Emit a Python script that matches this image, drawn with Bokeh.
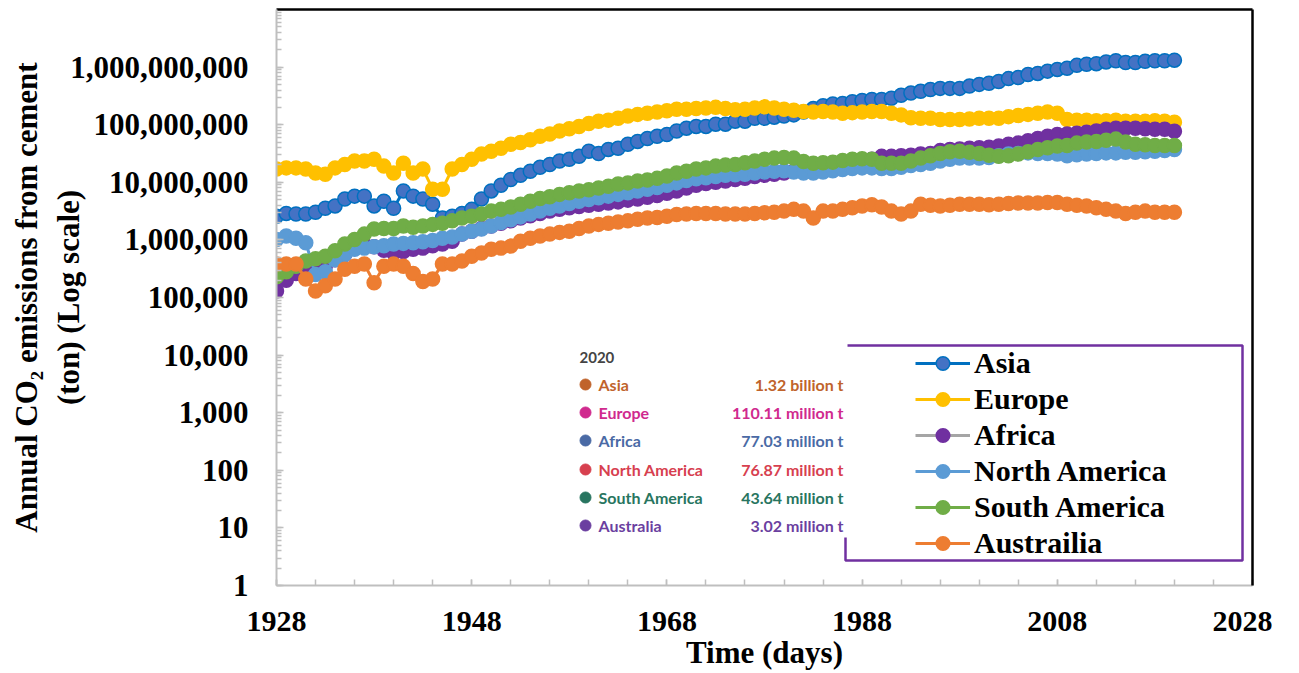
from bokeh.plotting import figure
from bokeh.models import (Range1d, FixedTicker, NumeralTickFormatter, LinearAxis, LogAxis,
                          Legend, LegendItem, BoxAnnotation, Label)
from bokeh.embed import file_html
from bokeh.resources import INLINE

# ---------------- data (million tonnes) ----------------
years = list(range(1928, 2021))

asia_mt = [2.57, 2.88, 2.82, 2.82, 3.02, 3.55, 3.89, 5.13, 5.75, 5.75,
           3.89, 4.68, 3.55, 7.08, 5.75, 5.13, 4.17, 2.40, 2.57, 2.88,
           3.39, 5.13, 7.08, 8.9, 11.2, 13.2, 15.5, 18.2, 20.4, 23.4,
           25.1, 28.2, 34.7, 31.6, 37.2, 38.9, 45.7, 51.3, 57.5, 63.1,
           67.6, 77.6, 87.1, 93.3, 93.3, 102, 102, 115, 115, 129,
           129, 135, 141, 148, 166, 191, 214, 229, 234, 251,
           263, 275, 275, 288, 324, 355, 380, 407, 427, 427,
           427, 468, 501, 525, 562, 631, 661, 741, 776, 851,
           912, 955, 1072, 1122, 1148, 1230, 1288, 1202, 1202, 1259,
           1288, 1288, 1320]

europe_mt = [17.0, 17.8, 17.8, 17.0, 14.5, 13.8, 17.8, 20.4, 23.4, 23.4,
             25.1, 19.1, 14.5, 21.4, 14.5, 17.0, 7.6, 7.6, 17.0, 20.4,
             25.1, 30.9, 34.7, 38.9, 45.7, 49.0, 55.0, 63.1, 69.2, 77.6,
             85.1, 93.3, 105, 115, 120, 129, 141, 151, 158, 166,
             174, 186, 186, 191, 195, 200, 191, 182, 186, 195,
             204, 195, 186, 178, 170, 166, 170, 166, 158, 162,
             166, 170, 170, 158, 148, 132, 129, 129, 123, 123,
             123, 126, 129, 129, 129, 138, 145, 151, 158, 166,
             158, 123, 120, 120, 117, 117, 120, 115, 115, 115,
             117, 115, 110.1]

africa_mt = [0.13, 0.20, 0.26, 0.26, 0.28, 0.35, 0.45, 0.56, 0.71, 0.83,
             0.76, 0.66, 0.59, 0.63, 0.69, 0.72, 0.79, 0.85, 0.95, 1.26,
             1.41, 1.58, 1.74, 1.95, 2.14, 2.40, 2.63, 2.88, 3.16, 3.39,
             3.63, 3.80, 3.98, 4.17, 4.37, 4.57, 4.90, 5.13, 5.50, 5.89,
             6.46, 7.08, 7.94, 8.91, 9.55, 10.0, 10.5, 11.2, 11.7, 12.6,
             13.2, 13.8, 14.5, 15.5, 16.6, 17.8, 18.6, 20.0, 20.9, 21.9,
             22.9, 25.1, 28.2, 28.2, 28.8, 29.5, 30.9, 31.6, 35.5, 37.2,
             38.0, 38.9, 39.8, 40.7, 42.7, 45.7, 47.9, 52.5, 57.5, 63.1,
             67.6, 69.2, 70.8, 74.1, 77.6, 83.2, 87.1, 87.1, 87.1, 85.1,
             83.2, 83.2, 77.03]

north_america_mt = [1.02, 1.17, 1.07, 0.89, 0.25, 0.28, 0.45, 0.56, 0.69, 0.72,
                    0.76, 0.79, 0.85, 0.87, 0.89, 0.93, 0.98, 1.07, 1.12, 1.26,
                    1.41, 1.55, 1.74, 2.00, 2.24, 2.51, 2.82, 3.16, 3.55, 3.89,
                    4.27, 4.68, 5.01, 5.37, 5.75, 6.17, 6.61, 7.08, 7.59, 8.13,
                    8.91, 9.77, 10.7, 11.5, 12.0, 12.6, 13.2, 13.5, 13.8, 14.5,
                    15.1, 15.5, 15.8, 15.1, 14.5, 14.5, 15.1, 15.8, 16.6, 17.4,
                    17.8, 17.8, 17.4, 17.4, 18.2, 19.5, 20.4, 21.4, 23.4, 25.1,
                    26.3, 26.3, 26.3, 26.9, 28.8, 30.9, 31.6, 32.4, 31.6, 31.6,
                    30.9, 28.8, 30.2, 30.9, 31.6, 32.4, 32.4, 33.1, 33.1, 33.9,
                    34.7, 35.5, 37.2]

south_america_mt = [0.23, 0.28, 0.35, 0.43, 0.47, 0.52, 0.65, 0.85, 1.02, 1.26,
                    1.55, 1.58, 1.58, 1.74, 1.66, 1.74, 1.86, 1.95, 2.14, 2.40,
                    2.57, 2.82, 3.16, 3.39, 3.72, 4.17, 4.68, 5.25, 5.62, 6.17,
                    6.61, 7.08, 7.41, 7.94, 8.51, 9.33, 9.77, 10.5, 11.0, 11.7,
                    12.9, 14.5, 15.5, 17.0, 17.8, 19.1, 20.0, 20.4, 21.9, 23.4,
                    25.1, 26.3, 26.9, 26.3, 22.9, 21.4, 21.9, 22.4, 24.0, 25.1,
                    25.7, 25.1, 21.4, 21.4, 21.4, 23.4, 26.3, 28.8, 31.6, 33.9,
                    34.7, 33.1, 31.6, 29.5, 28.2, 28.8, 30.9, 33.9, 37.2, 39.8,
                    42.7, 43.7, 47.9, 50.1, 51.3, 53.7, 56.2, 50.1, 45.7, 44.7,
                    43.7, 43.7, 43.64]

australia_mt = [0.38, 0.38, 0.38, 0.21, 0.13, 0.16, 0.21, 0.31, 0.35, 0.38,
                0.18, 0.35, 0.38, 0.35, 0.26, 0.19, 0.21, 0.38, 0.38, 0.43,
                0.52, 0.59, 0.69, 0.72, 0.78, 0.95, 1.07, 1.17, 1.26, 1.35,
                1.41, 1.58, 1.74, 1.86, 1.95, 2.04, 2.14, 2.29, 2.40, 2.45,
                2.57, 2.75, 2.82, 2.88, 2.88, 2.88, 2.82, 2.82, 2.82, 2.88,
                2.95, 3.02, 3.16, 3.39, 3.16, 2.40, 3.16, 3.16, 3.39, 3.63,
                3.89, 4.07, 3.72, 3.16, 2.82, 3.16, 4.17, 3.98, 3.89, 3.98,
                4.17, 4.17, 4.17, 4.07, 4.17, 4.27, 4.37, 4.37, 4.37, 4.47,
                4.47, 4.17, 3.98, 3.89, 3.63, 3.39, 3.16, 2.88, 3.02, 3.16,
                3.02, 3.02, 3.02]

legend_names = ["Asia", "Europe", "Africa", "North America", "South America", "Austrailia"]

inset_title = "2020"
inset_names = ["Asia", "Europe", "Africa", "North America", "South America", "Australia"]
inset_values = ["1.32 billion t", "110.11 million t", "77.03 million t",
                "76.87 million t", "43.64 million t", "3.02 million t"]

x_title = "Time (days)"
y_title = "Annual CO\u2082 emissions from cement\n(ton) (Log scale)"

x_major_ticks = [1928, 1948, 1968, 1988, 2008, 2028]
x_minor_ticks = list(range(1928, 2029, 4))
y_major_ticks = [10 ** k for k in range(10)]

# ---------------- styles ----------------
series_data = [asia_mt, europe_mt, africa_mt, north_america_mt, south_america_mt, australia_mt]
line_colors = ["#0070c0", "#ffc000", "#a5a5a5", "#5b9bd5", "#70ad47", "#ed7d31"]
fill_colors = ["#4472c4", "#ffc000", "#7030a0", "#5b9bd5", "#70ad47", "#ed7d31"]
edge_colors = ["#0070c0", "#ffc000", "#7030a0", "#5b9bd5", "#70ad47", "#ed7d31"]
inset_colors = ["#c0632b", "#d02a8e", "#4a6aa5", "#d7404f", "#287560", "#6b3fa0"]

SERIF = "Liberation Serif"

# pixel geometry of the plot frame (used only to place annotations)
FL, FR, FT, FB = 276, 1252, 9, 585
X0, X1 = 1928, 2028
LOG_SPAN = 10
W, H = 1272, 673


def to_data(px, py):
    x = X0 + (px - FL) * (X1 - X0) / (FR - FL)
    y = 10 ** (LOG_SPAN * (FB - py) / (FB - FT))
    return x, y


p = figure(width=W, height=H,
           x_range=Range1d(X0, X1), y_range=Range1d(1, 10 ** LOG_SPAN),
           y_axis_type="log", output_backend="svg", toolbar_location=None,
           min_border_left=FL, min_border_right=W - FR, min_border_top=FT,
           min_border_bottom=H - FB)
p.outline_line_color = None
p.xgrid.visible = False
p.ygrid.visible = False
p.background_fill_color = "white"

# ---- legend box and inset background (underlay) ----
lx0, ly0 = to_data(845, 345)
lx1, ly1 = to_data(1242, 560)
p.add_layout(BoxAnnotation(left=lx0, right=lx1, top=ly0, bottom=ly1,
                           fill_color=None, fill_alpha=0, line_color="#7030a0",
                           line_alpha=1, line_width=2.5, level="underlay"))
cx0, cy0 = to_data(566, 338)
cx1, cy1 = to_data(847, 537)
p.add_layout(BoxAnnotation(left=cx0, right=cx1, top=cy0, bottom=cy1,
                           fill_color="white", fill_alpha=1, line_color=None,
                           level="underlay"))

# ---- series ----
items = []
for name, vals, lc, fc, ec in zip(legend_names, series_data, line_colors, fill_colors, edge_colors):
    tons = [v * 1e6 for v in vals]
    lr = p.line(years, tons, line_color=lc, line_width=3)
    sr = p.scatter(years, tons, size=14, fill_color=fc, line_color=ec, line_width=1.5)
    items.append(LegendItem(label=name, renderers=[lr, sr]))

legend = Legend(items=items, location=(915 - FL, FB - 560),
                glyph_width=55, glyph_height=34, label_height=34, spacing=2,
                padding=0, margin=0, label_standoff=4,
                label_text_font=SERIF, label_text_font_style="bold",
                label_text_font_size="30px", label_text_color="black",
                background_fill_alpha=0, border_line_color=None)
p.add_layout(legend)

# ---- inset (2020 values) ----
tx, ty = to_data(579, 357)
p.add_layout(Label(x=tx, y=ty, text=inset_title, text_font="Lato", text_font_size="15px",
                   text_font_style="bold", text_color="#444444", text_baseline="middle",
                   text_align="left"))
row_py = [384, 412, 440, 469, 497, 525]
dot_x, dot_y = [], []
for name, val, col, py in zip(inset_names, inset_values, inset_colors, row_py):
    dx, dy = to_data(585, py)
    dot_x.append(dx)
    dot_y.append(dy)
    nx, ny = to_data(598, py)
    p.add_layout(Label(x=nx, y=ny, text=name, text_font="Lato", text_font_size="16px",
                       text_font_style="bold", text_color=col, text_baseline="middle",
                       text_align="left"))
    vx, vy = to_data(843, py)
    p.add_layout(Label(x=vx, y=vy, text=val, text_font="Lato", text_font_size="16px",
                       text_font_style="bold", text_color=col, text_baseline="middle",
                       text_align="right"))
p.scatter(dot_x, dot_y, size=11, fill_color=inset_colors, line_color=inset_colors)

# ---- axes ----
AX_GRAY = "#bfbfbf"
xa = p.xaxis[0]
xa.ticker = FixedTicker(ticks=x_major_ticks, minor_ticks=x_minor_ticks)
xa.axis_line_color = AX_GRAY
xa.axis_line_width = 2
xa.major_tick_line_color = AX_GRAY
xa.minor_tick_line_color = AX_GRAY
xa.major_tick_line_width = 1.5
xa.minor_tick_line_width = 1.5
xa.major_tick_in = 6
xa.major_tick_out = 0
xa.minor_tick_in = 6
xa.minor_tick_out = 0
xa.major_label_text_font = SERIF
xa.major_label_text_font_style = "bold"
xa.major_label_text_font_size = "30px"
xa.major_label_text_color = "black"
xa.major_label_standoff = 26
xa.axis_label = x_title
xa.axis_label_text_font = SERIF
xa.axis_label_text_font_style = "bold"
xa.axis_label_text_font_size = "31px"
xa.axis_label_text_color = "black"
xa.axis_label_standoff = 1

ya = p.yaxis[0]
ya.ticker = FixedTicker(ticks=y_major_ticks,
                        minor_ticks=[m * 10 ** k for k in range(LOG_SPAN) for m in range(1, 10)])
ya.formatter = NumeralTickFormatter(format="0,0")
ya.axis_line_color = AX_GRAY
ya.axis_line_width = 2
ya.major_tick_line_color = AX_GRAY
ya.minor_tick_line_color = AX_GRAY
ya.major_tick_line_width = 1.5
ya.minor_tick_line_width = 1.5
ya.major_tick_in = 7
ya.major_tick_out = 0
ya.minor_tick_in = 5
ya.minor_tick_out = 0
ya.major_label_text_font = SERIF
ya.major_label_text_font_style = "bold"
ya.major_label_text_font_size = "31px"
ya.major_label_text_color = "black"
ya.major_label_standoff = 28
ya.axis_label = y_title
ya.axis_label_text_font = SERIF
ya.axis_label_text_font_style = "bold"
ya.axis_label_text_font_size = "31px"
ya.axis_label_text_color = "black"
ya.axis_label_standoff = -19

top_ax = LinearAxis(ticker=FixedTicker(ticks=[], minor_ticks=[]), axis_line_color="black",
                    axis_line_width=2.5, major_tick_line_color=None, minor_tick_line_color=None)
p.add_layout(top_ax, "above")
right_ax = LogAxis(ticker=FixedTicker(ticks=[], minor_ticks=[]), axis_line_color="black",
                   axis_line_width=2.5, major_tick_line_color=None, minor_tick_line_color=None)
p.add_layout(right_ax, "right")

open("out.html", "w").write(file_html(p, INLINE))
